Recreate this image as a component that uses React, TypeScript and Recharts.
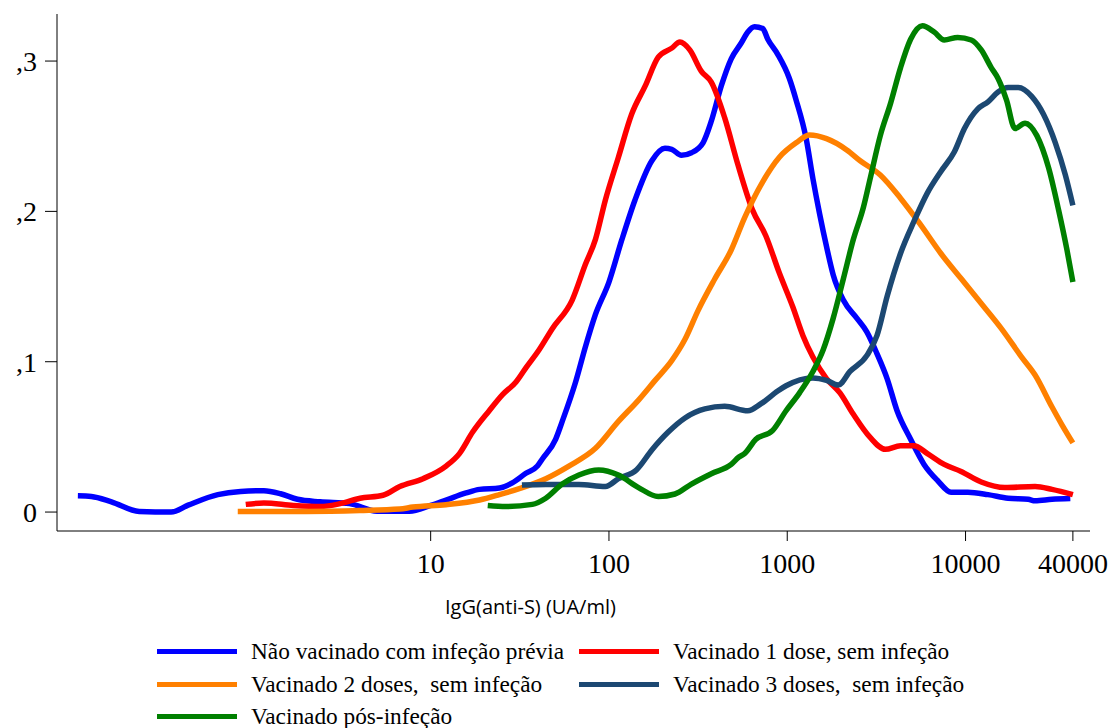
import React from 'react';
import { LineChart, Line, XAxis, YAxis } from 'recharts';

// IgG (UA/ml) vs density
const X_TICKS = [10, 100, 1000, 10000, 40000];
const Y_TICKS = [0, 0.1, 0.2, 0.3];
const X_DOMAIN: [number, number] = [0.0802, 49900];
const Y_DOMAIN: [number, number] = [-0.0126, 0.3313];

const naoVacinado: [number, number][] = [
  [0.105, 0.0108], [0.125, 0.0104], [0.162, 0.0068], [0.232, 0.0004], [0.35, 0],
  [0.436, 0.0046], [0.64, 0.0116], [0.86, 0.0137], [1.16, 0.0142], [1.44, 0.0122],
  [1.79, 0.0085], [2.4, 0.0068], [3.5, 0.0056], [5, 0.0006], [6.7, 0.0005],
  [7.6, 0.0005], [10, 0.0044], [12.2, 0.008], [15.8, 0.0127], [18.8, 0.0151],
  [24.3, 0.016], [28.7, 0.0194], [34.2, 0.0258], [39.7, 0.0306], [42.3, 0.0353],
  [50.2, 0.0484], [54.7, 0.0603], [65, 0.0865], [73.8, 0.11], [84, 0.1315],
  [100, 0.153], [118, 0.181], [140, 0.2076], [174, 0.2337], [206, 0.242],
  [225, 0.2413], [255, 0.2373], [290, 0.239], [337, 0.2456], [375, 0.26],
  [427, 0.2836], [485, 0.3015], [552, 0.312], [601, 0.3193], [655, 0.3228],
  [729, 0.3216], [778, 0.3145], [884, 0.3045], [1028, 0.2884], [1122, 0.274],
  [1279, 0.248], [1393, 0.2218], [1521, 0.198], [1660, 0.1767], [1811, 0.1577],
  [2063, 0.141], [2454, 0.129], [2799, 0.1197], [3185, 0.1054], [3631, 0.0888],
  [4130, 0.0674], [4920, 0.0484], [5850, 0.0317], [6966, 0.021], [8290, 0.0132],
  [10300, 0.0132], [13370, 0.0116], [17340, 0.0092], [22480, 0.0085], [24550, 0.0075],
  [30550, 0.0085], [38700, 0.009],
];

const vacinado1Dose: [number, number][] = [
  [0.918, 0.0051], [1.16, 0.006], [1.7, 0.0044], [2.4, 0.0037], [3.11, 0.0056],
  [4.02, 0.0092], [5.4, 0.0112], [6.71, 0.017], [9.06, 0.0222], [12.2, 0.0306],
  [14.5, 0.0389], [17.2, 0.0532], [21.3, 0.0674], [25.3, 0.0781], [30.1, 0.0865],
  [34.2, 0.0959], [40.5, 0.1078], [48.1, 0.122], [62.2, 0.141], [73.8, 0.1648],
  [84, 0.1814], [95.5, 0.2076], [113, 0.236], [134, 0.2646], [160, 0.2836],
  [189, 0.3026], [225, 0.3086], [250, 0.3126], [284, 0.3074], [330, 0.2931],
  [375, 0.286], [446, 0.2622], [529, 0.231], [638, 0.201], [758, 0.1838],
  [903, 0.159], [1075, 0.1364], [1225, 0.1173], [1393, 0.1031], [1660, 0.0888],
  [1975, 0.0793], [2349, 0.065], [2918, 0.0496], [3551, 0.0417], [4317, 0.0441],
  [5136, 0.0441], [6113, 0.0389], [7597, 0.0317], [9441, 0.027], [12250, 0.02],
  [16600, 0.0163], [24550, 0.017], [30550, 0.0151], [40000, 0.0116],
];

const vacinado2Doses: [number, number][] = [
  [0.828, 0.0004], [2, 0.0004], [4, 0.001], [6.7, 0.002], [7.94, 0.0033],
  [12.2, 0.0049], [18.8, 0.008], [24.3, 0.0116], [31.4, 0.0156], [44.2, 0.0222],
  [59.6, 0.0306], [84, 0.0424], [113, 0.0603], [146.5, 0.0745], [181.5, 0.0876],
  [225, 0.1007], [267, 0.1149], [316, 0.134], [392, 0.155], [485, 0.1743],
  [576, 0.1957], [727, 0.2195], [903, 0.236], [1122, 0.2456], [1335, 0.2508],
  [1660, 0.2484], [2156, 0.2409], [2564, 0.2337], [3326, 0.2242], [4317, 0.2088],
  [5603, 0.191], [7275, 0.172], [9441, 0.1553], [12250, 0.1387], [15890, 0.122],
  [20640, 0.1031], [24550, 0.0912], [30550, 0.0699], [34800, 0.0579], [40000, 0.046],
];

const vacinado3Doses: [number, number][] = [
  [32.5, 0.018], [44.2, 0.0184], [67.8, 0.0184], [95.5, 0.017], [113, 0.0222],
  [143, 0.0282], [174, 0.0413], [215, 0.0532], [267, 0.0626], [345, 0.0686],
  [446, 0.0703], [601, 0.0674], [713, 0.0721], [884, 0.0805], [985, 0.084],
  [1393, 0.0892], [1660, 0.0876], [1932, 0.0845], [2249, 0.0935], [2799, 0.1042],
  [3185, 0.1173], [3631, 0.1434], [4317, 0.172], [5136, 0.1933], [6113, 0.2123],
  [7275, 0.2266], [8660, 0.2397], [9860, 0.2551], [11720, 0.2682], [13370, 0.2729],
  [15220, 0.2794], [17340, 0.2824], [19770, 0.2824], [23500, 0.2765], [27360, 0.2646],
  [31890, 0.2456], [36300, 0.2242], [40000, 0.204],
];

const vacinadoPosInfecao: [number, number][] = [
  [20.9, 0.0044], [26.4, 0.0037], [37.2, 0.0051], [44.2, 0.0092], [54.7, 0.0186],
  [67.8, 0.0246], [87.6, 0.0279], [113, 0.0246], [146.5, 0.0163], [189, 0.0104],
  [234.7, 0.012], [290, 0.0186], [375, 0.0255], [485, 0.0317], [536, 0.0366],
  [576, 0.0389], [667, 0.0484], [829, 0.0543], [985, 0.0674], [1172, 0.0793],
  [1393, 0.0935], [1589, 0.1078], [1811, 0.129], [2063, 0.155], [2349, 0.1814],
  [2677, 0.2029], [2918, 0.2218], [3326, 0.2504], [3793, 0.2717], [4317, 0.2955],
  [4920, 0.3145], [5728, 0.3235], [6670, 0.3193], [7597, 0.314], [9036, 0.3157],
  [10760, 0.314], [12250, 0.3074], [13960, 0.2955], [15220, 0.2884], [16980, 0.274],
  [18920, 0.2551], [21560, 0.2587], [25120, 0.2504], [29230, 0.229], [33320, 0.2005],
  [37070, 0.1743], [40000, 0.153],
];

const SERIES = [
  { name: 'Não vacinado com infeção prévia', color: '#0000ff', points: naoVacinado },
  { name: 'Vacinado 1 dose, sem infeção', color: '#ff0000', points: vacinado1Dose },
  { name: 'Vacinado 2 doses,  sem infeção', color: '#ff8000', points: vacinado2Doses },
  { name: 'Vacinado 3 doses,  sem infeção', color: '#1c4872', points: vacinado3Doses },
  { name: 'Vacinado pós-infeção', color: '#008000', points: vacinadoPosInfecao },
];

const SERIF = '"Liberation Serif", "Times New Roman", serif';

const fmtY = (v: number) => (v === 0 ? '0' : ',' + Math.round(v * 10));

// legend slots: [swatch left, swatch centre y]
const LEGEND_POS: [number, number][] = [
  [157, 651],
  [579, 651],
  [157, 684],
  [579, 684],
  [157, 716],
];

export default function App() {
  return (
    <div
      style={{
        position: 'absolute',
        left: 0,
        top: 0,
        width: 1114,
        height: 728,
        background: '#fff',
        overflow: 'hidden',
      }}
    >
      <LineChart
        width={1114}
        height={600}
        margin={{ top: 14, right: 24, bottom: 0, left: 0 }}
      >
        <XAxis
          dataKey="x"
          type="number"
          scale="log"
          domain={X_DOMAIN}
          allowDataOverflow
          ticks={X_TICKS}
          interval={0}
          height={69}
          stroke="#000"
          tickSize={10}
          tickMargin={12}
          tick={{ fill: '#000', fontSize: 28, fontFamily: SERIF }}
        />
        <YAxis
          type="number"
          domain={Y_DOMAIN}
          allowDataOverflow
          ticks={Y_TICKS}
          interval={0}
          width={57}
          stroke="#000"
          tickSize={12}
          tickMargin={8}
          tickFormatter={fmtY}
          tick={{ fill: '#000', fontSize: 28, fontFamily: SERIF }}
        />
        {SERIES.map((s) => (
          <Line
            key={s.name}
            name={s.name}
            data={s.points.map(([x, y]) => ({ x, y }))}
            dataKey="y"
            type="monotone"
            stroke={s.color}
            strokeWidth={5.5}
            dot={false}
            activeDot={false}
            isAnimationActive={false}
          />
        ))}
      </LineChart>
      <div
        style={{
          position: 'absolute',
          left: 445,
          top: 593,
          fontFamily: '"Open Sans", sans-serif',
          fontSize: 20,
          color: '#000',
          whiteSpace: 'nowrap',
        }}
      >
        IgG(anti-S) (UA/ml)
      </div>
      {SERIES.map((s, i) => (
        <div
          key={s.name}
          style={{
            position: 'absolute',
            left: LEGEND_POS[i][0],
            top: LEGEND_POS[i][1] - 15,
            height: 30,
            display: 'flex',
            alignItems: 'center',
            fontFamily: SERIF,
            fontSize: 23.3,
            color: '#000',
            whiteSpace: 'pre',
          }}
        >
          <span
            style={{
              display: 'inline-block',
              width: 80,
              height: 5,
              background: s.color,
              marginRight: 14,
            }}
          />
          {s.name}
        </div>
      ))}
    </div>
  );
}
